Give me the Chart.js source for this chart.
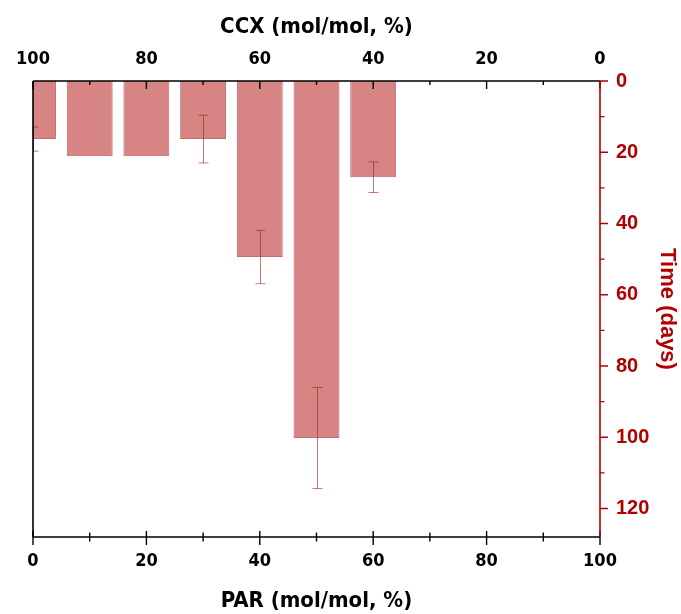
<!DOCTYPE html>
<html>
<head>
<meta charset="utf-8">
<script src="https://cdn.jsdelivr.net/npm/chart.js@4.4.1/dist/chart.umd.min.js"></script>
<style>
    html, body { margin: 0; padding: 0; background: #ffffff; }
    #wrap { width: 681px; height: 614px; }
</style>
</head>
<body>
<div id="wrap"><canvas id="timeChart" width="681" height="614"></canvas></div>
<script>
// PAR content of each sample (mol/mol, %), CCX = 100 - PAR
const parValues = [0, 10, 20, 30, 40, 50, 60];
// Time (days)
const timeDays = [16.3, 21.1, 21.1, 16.3, 49.4, 100.2, 27.0];
// error bar half-widths (days), 0 = none drawn
const timeErr = [3.4, 0, 0, 6.7, 7.5, 14.2, 4.3];

const xTicksMajor = [0, 20, 40, 60, 80, 100];
const yTicksMajor = [0, 20, 40, 60, 80, 100, 120];

const RED = "#b00000";
const NARROW = "'Liberation Sans Narrow', 'DejaVu Sans Condensed', 'Arial Narrow', sans-serif";
const WIDE = "'Liberation Sans', Arial, sans-serif";

// error bars drawn through the chart's own scales
const errorBarPlugin = {
    id: "errorBars",
    afterDatasetsDraw(chart) {
        const {ctx, chartArea, scales: {x, y}} = chart;
        ctx.save();
        ctx.beginPath();
        ctx.rect(chartArea.left, chartArea.top, chartArea.right - chartArea.left, chartArea.bottom - chartArea.top);
        ctx.clip();
        ctx.strokeStyle = "rgba(160, 30, 30, 0.6)";
        ctx.lineWidth = 1;
        parValues.forEach((p, i) => {
            if (!timeErr[i]) return;
            const px = Math.round(x.getPixelForValue(p)) + 0.5;
            const y1 = y.getPixelForValue(timeDays[i] - timeErr[i]);
            const y2 = y.getPixelForValue(timeDays[i] + timeErr[i]);
            ctx.beginPath();
            ctx.moveTo(px, y1); ctx.lineTo(px, y2);
            ctx.moveTo(px - 5, y1); ctx.lineTo(px + 5, y1);
            ctx.moveTo(px - 5, y2); ctx.lineTo(px + 5, y2);
            ctx.stroke();
        });
        ctx.restore();
    }
};

// frame lines plus major / minor tick marks
const frameTicksPlugin = {
    id: "frameTicks",
    afterDraw(chart) {
        const {ctx, chartArea: {left, right, top, bottom}, scales: {x, x2, y}} = chart;
        ctx.save();
        ctx.lineWidth = 1.6;

        // black frame: left, bottom, top
        ctx.strokeStyle = "#000";
        ctx.beginPath();
        ctx.moveTo(left, top); ctx.lineTo(left, bottom);
        ctx.moveTo(left, bottom); ctx.lineTo(right, bottom);
        ctx.moveTo(left, top); ctx.lineTo(right, top);
        ctx.stroke();

        ctx.lineWidth = 1.4;
        ctx.beginPath();
        for (let v = 0; v <= 100; v += 10) {
            const major = v % 20 === 0;
            // bottom axis crosses the line
            const bx = x.getPixelForValue(v);
            ctx.moveTo(bx, bottom - (major ? 6 : 4.5));
            ctx.lineTo(bx, bottom + (major ? 8 : 4.5));
            // top axis points inward
            const tx = x2.getPixelForValue(v);
            ctx.moveTo(tx, top);
            ctx.lineTo(tx, top + (major ? 8 : 4));
        }
        ctx.stroke();

        // red right axis
        ctx.strokeStyle = RED;
        ctx.lineWidth = 1.6;
        ctx.beginPath();
        ctx.moveTo(right, top); ctx.lineTo(right, bottom);
        ctx.stroke();
        ctx.lineWidth = 1.4;
        ctx.beginPath();
        for (let v = 0; v <= 120; v += 10) {
            const major = v % 20 === 0;
            const py = y.getPixelForValue(v);
            ctx.moveTo(right, py);
            ctx.lineTo(right + (major ? 8 : 4.5), py);
        }
        ctx.stroke();
        ctx.restore();
    }
};

const ctx = document.getElementById("timeChart").getContext("2d");
new Chart(ctx, {
    type: "bar",
    data: {
        datasets: [{
            label: "Time (days)",
            data: parValues.map((p, i) => ({x: p, y: timeDays[i]})),
            backgroundColor: "rgba(205, 105, 105, 0.82)",
            borderColor: "rgba(190, 90, 90, 0.9)",
            borderWidth: 1,
            categoryPercentage: 0.9,
            barPercentage: 0.9,
            xAxisID: "x",
            yAxisID: "y"
        }]
    },
    options: {
        responsive: false,
        animation: false,
        layout: { padding: { left: 33, right: 0, top: 0, bottom: 0 } },
        plugins: {
            legend: { display: false },
            tooltip: { enabled: false }
        },
        scales: {
            x: {
                type: "linear",
                position: "bottom",
                min: 0,
                max: 100,
                offset: false,
                grid: { display: false, drawTicks: false },
                border: { display: false },
                afterBuildTicks: (s) => { s.ticks = xTicksMajor.map(v => ({value: v})); },
                ticks: {
                    padding: 14,
                    color: "#000",
                    font: { family: NARROW, size: 18, weight: "bold" }
                },
                title: {
                    display: true,
                    text: "PAR (mol/mol, %)",
                    color: "#000",
                    padding: { top: 0, bottom: 2 },
                    font: { family: NARROW, size: 22, weight: "bold", lineHeight: 1.0 }
                },
                afterFit: (s) => { s.height = 77; }
            },
            x2: {
                type: "linear",
                position: "top",
                min: 0,
                max: 100,
                reverse: true,
                offset: false,
                grid: { display: false, drawTicks: false },
                border: { display: false },
                afterBuildTicks: (s) => { s.ticks = xTicksMajor.map(v => ({value: v})); },
                ticks: {
                    padding: 11,
                    color: "#000",
                    font: { family: NARROW, size: 18, weight: "bold" }
                },
                title: {
                    display: true,
                    text: "CCX (mol/mol, %)",
                    color: "#000",
                    padding: { top: 14, bottom: 0 },
                    font: { family: NARROW, size: 22, weight: "bold" }
                },
                afterFit: (s) => { s.height = 81; }
            },
            y: {
                type: "linear",
                position: "right",
                min: 0,
                max: 128,
                reverse: true,
                grid: { display: false, drawTicks: false },
                border: { display: false },
                afterBuildTicks: (s) => { s.ticks = yTicksMajor.map(v => ({value: v})); },
                ticks: {
                    padding: 16,
                    color: RED,
                    font: { family: WIDE, size: 20, weight: "bold" }
                },
                title: {
                    display: true,
                    text: "Time (days)",
                    color: RED,
                    padding: { top: 1, bottom: 0 },
                    font: { family: WIDE, size: 22, weight: "bold" }
                },
                afterFit: (s) => { s.width = 81; }
            }
        }
    },
    plugins: [errorBarPlugin, frameTicksPlugin]
});
</script>
</body>
</html>
